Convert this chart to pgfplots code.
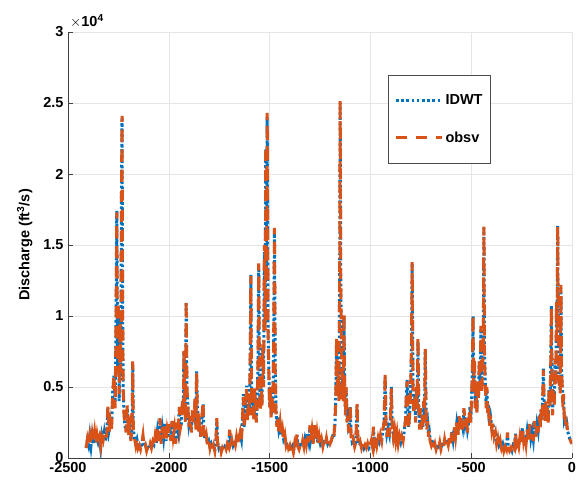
\documentclass[border=0pt]{standalone}
\usepackage{pgfplots}
\usepackage{pgfplotstable}
\usepackage{fontspec}
\setmainfont{Liberation Sans}
\pgfplotsset{compat=1.18}

\definecolor{mblue}{RGB}{0,114,189}
\definecolor{morange}{RGB}{217,83,25}

% daily discharge, x = day index relative to last day
\pgfplotstableread{
x obsv idwt
-2410 700 750
-2404 1300 1250
-2398 800 900
-2392 1500 1600
-2386 900 850
-2380 1700 1700
-2374 1100 1000
-2368 1800 1750
-2362 900 1000
-2356 1600 1500
-2350 1000 1100
-2344 1400 1400
-2338 800 700
-2332 1500 1600
-2326 1200 1200
-2320 1700 1800
-2314 1300 1200
-2308 1500 1600
-2302 3700 3500
-2296 1800 2000
-2290 2600 2500
-2284 2000 2200
-2278 4500 4700
-2272 5900 5800
-2266 3500 3900
-2262 9000 9500
-2258 17300 17400
-2254 6000 6400
-2250 11000 10500
-2246 4500 4000
-2242 9500 10000
-2238 6000 5500
-2235 18000 18000
-2232 24100 24000
-2229 10000 10500
-2226 5000 4500
-2222 3000 3200
-2218 2500 2300
-2212 1800 2000
-2206 3700 3500
-2200 1600 1700
-2194 2200 2000
-2188 1200 1300
-2182 2400 2200
-2179 6800 6600
-2176 2000 2100
-2170 1400 1300
-2164 900 1000
-2158 1400 1300
-2152 700 800
-2146 900 900
-2140 600 700
-2134 1000 900
-2128 1600 1500
-2122 700 800
-2116 900 900
-2110 500 600
-2104 800 700
-2098 600 600
-2092 1000 1000
-2086 700 800
-2080 1100 1000
-2074 800 900
-2068 1500 1400
-2062 900 1000
-2056 2000 1900
-2050 1200 1300
-2044 2800 2700
-2038 1000 1200
-2032 2200 2100
-2026 1300 1400
-2020 2500 2400
-2014 1100 1200
-2008 2000 2100
-2002 1500 1400
-1996 2400 2300
-1990 1200 1300
-1984 2600 2500
-1978 1500 1600
-1972 2100 2000
-1966 1000 1100
-1960 2500 2400
-1954 1800 1900
-1948 3600 3400
-1944 2000 2200
-1938 2500 2400
-1932 4200 4000
-1928 3000 3300
-1925 7600 7500
-1921 4000 4300
-1917 2500 2700
-1914 11100 11000
-1910 5000 4500
-1906 3700 3900
-1900 2200 2400
-1894 3000 2900
-1888 1800 2000
-1882 3500 3300
-1876 2500 2600
-1870 4200 4000
-1866 2000 2300
-1862 6000 6100
-1858 3000 3200
-1854 1800 1900
-1848 2400 2300
-1842 1500 1600
-1836 2800 2700
-1830 4000 3800
-1826 1600 1700
-1820 1200 1300
-1814 1600 1500
-1808 900 1000
-1802 1300 1200
-1796 700 800
-1790 1100 1000
-1784 600 700
-1778 900 900
-1772 500 600
-1766 1300 1200
-1762 2800 2600
-1758 1000 1100
-1752 600 700
-1746 900 900
-1740 400 500
-1734 700 700
-1728 500 600
-1722 800 800
-1716 600 700
-1710 1000 900
-1704 800 900
-1698 2000 1800
-1694 1000 1100
-1688 1300 1200
-1682 800 900
-1676 1200 1200
-1670 900 1000
-1664 1500 1400
-1658 1000 1100
-1652 1400 1300
-1646 1800 1700
-1640 1200 1300
-1634 3000 2800
-1630 4300 4500
-1626 2000 2200
-1620 3500 3300
-1614 5000 5100
-1610 2500 2800
-1604 4000 3800
-1600 3000 3200
-1596 7500 7000
-1593 12800 12900
-1590 5000 5500
-1586 3000 3300
-1582 4500 4300
-1578 2500 2700
-1574 5000 4800
-1570 3800 4000
-1566 2500 2700
-1562 4000 3800
-1558 6000 6200
-1554 13700 13600
-1550 5000 5400
-1546 3200 3500
-1542 5500 5300
-1538 3500 3800
-1534 8000 7800
-1530 5000 5500
-1526 15000 14500
-1522 9000 9500
-1519 22000 21800
-1515 13000 13500
-1512 24300 24000
-1508 9000 9500
-1504 6000 6300
-1500 3500 3800
-1496 5000 4800
-1492 2800 3000
-1488 4500 4300
-1484 3000 3200
-1480 8000 7700
-1476 16200 16000
-1472 6000 6300
-1468 3000 3200
-1464 2200 2400
-1460 3000 2900
-1454 1800 2000
-1448 2500 2400
-1442 1500 1600
-1436 2000 1900
-1430 1200 1300
-1424 1600 1500
-1418 900 1000
-1412 1200 1100
-1406 700 800
-1400 900 900
-1394 500 600
-1388 800 800
-1382 400 500
-1376 1000 900
-1370 600 700
-1364 1700 1600
-1360 800 900
-1354 600 700
-1348 900 900
-1342 700 800
-1336 1200 1100
-1330 800 900
-1324 1500 1400
-1318 1000 1100
-1312 1800 1700
-1306 1100 1200
-1300 2300 2100
-1296 1200 1300
-1290 1900 1800
-1284 1000 1100
-1278 2300 2200
-1272 1200 1300
-1266 1800 1700
-1260 900 1000
-1254 1500 1400
-1248 900 1000
-1242 1300 1200
-1236 800 900
-1230 1200 1100
-1224 900 1000
-1218 1400 1300
-1212 900 1000
-1206 1300 1200
-1200 1000 1100
-1194 1200 1200
-1188 1600 1500
-1182 1300 1400
-1176 2500 2400
-1172 4000 4200
-1168 8500 8300
-1164 5000 5300
-1160 6000 5800
-1156 4000 4400
-1152 14000 14500
-1150 25200 25000
-1147 12000 12500
-1144 8000 8300
-1140 4000 4400
-1137 6000 5800
-1134 4000 4300
-1131 10200 10000
-1128 5000 5300
-1124 3000 3300
-1120 5000 4800
-1116 2500 2800
-1112 3000 3000
-1108 1800 2000
-1104 2200 2100
-1100 3800 3600
-1096 1500 1700
-1090 1000 1100
-1084 1300 1200
-1078 800 900
-1072 1100 1100
-1066 3900 3700
-1062 1200 1400
-1056 800 900
-1050 1100 1000
-1044 700 800
-1038 1000 1000
-1032 600 700
-1026 900 900
-1020 700 800
-1014 1000 900
-1008 600 700
-1002 900 900
-996 1200 1100
-990 800 900
-985 2200 2100
-980 1000 1100
-974 1500 1400
-968 900 1000
-962 1400 1300
-956 1000 1100
-950 1600 1500
-944 1200 1300
-938 2000 1900
-932 2500 2600
-927 6000 5700
-923 2500 2800
-918 1500 1700
-912 2200 2100
-906 1500 1700
-900 3000 2900
-896 4900 5000
-892 2000 2300
-886 1400 1500
-880 2000 1900
-874 1200 1300
-868 1800 1700
-862 1000 1100
-856 1500 1400
-850 1000 1100
-844 1500 1500
-838 1200 1300
-832 2000 1900
-826 2600 2700
-822 4400 4200
-818 5400 5500
-814 3000 3300
-810 2000 2200
-806 3000 2900
-802 4000 4200
-796 8000 7700
-793 13800 13700
-789 5000 5400
-785 3000 3300
-780 4500 4300
-776 2500 2800
-772 5000 4800
-768 3500 3700
-764 8500 8200
-760 3000 3400
-756 2000 2200
-752 3500 3300
-748 2000 2200
-744 3000 2900
-740 2000 2200
-736 4000 3800
-732 2500 2700
-728 7700 7600
-724 3000 3300
-720 2000 2200
-716 2600 2500
-712 1500 1700
-708 2000 1900
-704 1200 1300
-698 900 1000
-692 1200 1100
-686 700 800
-680 1000 1000
-674 600 700
-668 900 900
-662 700 800
-656 1100 1000
-650 600 700
-644 900 900
-638 700 800
-632 1300 1200
-626 800 900
-620 1200 1100
-614 900 1000
-608 1500 1400
-602 1000 1100
-596 2000 1900
-590 1200 1300
-584 2200 2100
-578 1500 1600
-572 2500 2400
-566 1500 1700
-560 3000 2900
-554 1800 2000
-548 2800 2700
-542 2000 2200
-536 3500 3400
-530 2200 2400
-524 3000 2900
-518 1800 2000
-512 2600 2500
-506 3500 3600
-502 2500 2700
-498 4500 4300
-494 6000 6200
-491 10100 10000
-488 5000 5400
-484 7000 6800
-480 3500 3800
-476 5000 4800
-472 3000 3300
-468 5500 5300
-464 4000 4300
-460 7000 6800
-456 5000 5300
-452 9300 9100
-448 4500 4900
-444 6000 5800
-440 8000 8200
-437 16300 16200
-434 7000 7400
-430 5000 5300
-426 3500 3800
-422 5000 4800
-418 3000 3300
-414 3500 3400
-410 2200 2400
-404 3000 2900
-398 2000 2200
-392 2500 2400
-386 1500 1700
-380 1800 1700
-374 1000 1100
-368 1400 1300
-362 800 900
-356 1200 1100
-350 700 800
-344 1000 1000
-338 500 600
-332 800 800
-326 600 700
-320 1800 1700
-316 700 800
-310 500 600
-304 700 700
-298 400 500
-292 900 900
-286 700 800
-280 1800 1700
-276 900 1000
-270 1200 1200
-264 800 900
-258 1500 1400
-252 1000 1100
-246 2200 2100
-240 1200 1300
-234 1700 1600
-228 1000 1100
-222 2000 1900
-216 1200 1300
-210 2400 2300
-204 1300 1400
-198 2000 1900
-192 1200 1300
-186 2600 2500
-180 1500 1600
-174 2500 2400
-168 1800 1900
-162 3000 2900
-158 2000 2200
-154 3500 3400
-150 2500 2700
-146 4000 3900
-142 6200 6300
-138 3500 3800
-134 2500 2700
-130 4000 3900
-126 2800 3000
-122 3500 3400
-118 2500 2700
-114 5000 4800
-110 3500 3800
-106 6000 5800
-102 10600 10700
-99 4000 4400
-96 3000 3300
-92 5000 4800
-88 3500 3800
-84 7000 6800
-80 5000 5300
-77 11000 10800
-74 9000 9300
-71 16300 16400
-68 8000 8400
-65 6000 6200
-62 5000 5200
-58 4500 4600
-55 12200 12000
-52 6000 6400
-48 5000 5200
-45 3500 3800
-42 4500 4300
-38 2500 2700
-34 3000 2900
-30 2000 2200
-26 2500 2400
-22 1800 1900
-16 1500 1600
-10 1300 1300
-4 1100 1200
0 1000 1000
}\flowdata

\begin{document}
\begin{tikzpicture}[font=\fontsize{14.5}{17}\selectfont\bfseries]
\useasboundingbox (-68pt,-24pt) rectangle (509pt,458pt);
\begin{axis}[
  at={(0,0)}, anchor=south west,
  scale only axis,
  width=504pt, height=426pt,
  xmin=-2500, xmax=0,
  ymin=0, ymax=30000,
  xtick={-2500,-2000,-1500,-1000,-500,0},
  xticklabels={-2500,-2000,-1500,-1000,-500,0},
  ytick={0,5000,10000,15000,20000,25000,30000},
  yticklabels={0,0.5,1,1.5,2,2.5,3},
  scaled y ticks=false,
  axis x line*=bottom, axis y line*=left,
  axis line style={black!75, line width=0.6pt, -},
  tick style={black!75, line width=0.6pt},
  tick align=inside,
  major tick length=5pt,
  grid=major,
  major grid style={gray!20, line width=0.6pt},
  ticklabel style={font=\fontsize{14.5}{17}\selectfont\bfseries},
  xticklabel style={yshift=-1pt},
  yticklabel style={xshift=-1pt},
  ylabel={Discharge (ft$^{\mathbf{3}}$/s)},
  ylabel style={font=\fontsize{14.5}{17}\selectfont\bfseries, yshift=4pt},
  legend style={at={(0.839,0.899)}, anchor=north east,
    draw=black!70, line width=0.6pt, fill=white,
    row sep=22pt, inner xsep=6pt, inner ysep=17pt,
    font=\fontsize{14.5}{17}\selectfont\bfseries,
    legend cell align=left},
  legend image code/.code={\draw[#1] (0pt,0pt) -- (38pt,0pt); \path (0pt,0pt) -- (46pt,0pt);},
  clip=true,
]
\addplot[mblue, line width=3pt, dash pattern=on 2.6pt off 2.6pt] table[x=x, y=idwt] {\flowdata};
\addlegendentry{IDWT}
\addplot[morange, line width=3pt, dash pattern=on 11pt off 9pt] table[x=x, y=obsv] {\flowdata};
\addlegendentry{obsv}
\end{axis}
\node[anchor=base west, font=\fontsize{14.5}{17}\selectfont, inner sep=0pt] at (2pt,431pt) {$\times\mathbf{10^{4}}$};
\end{tikzpicture}
\end{document}
